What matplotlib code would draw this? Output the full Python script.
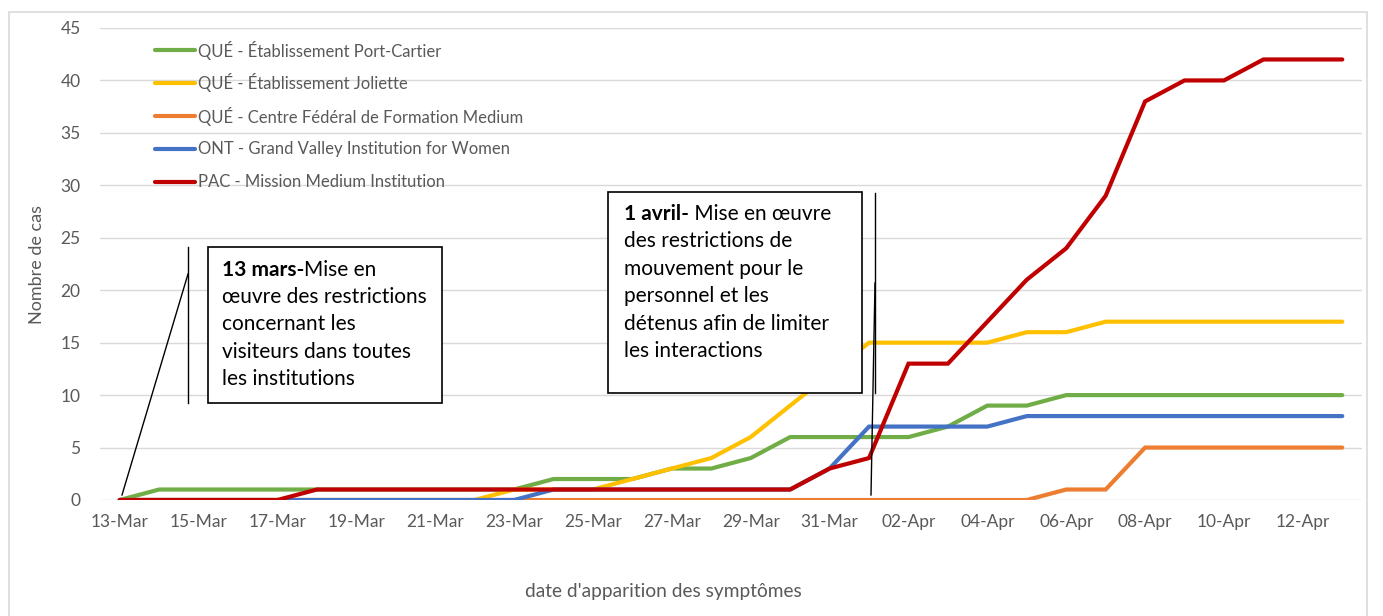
import numpy as np
import pandas as pd
import matplotlib
matplotlib.use("Agg")
import matplotlib.pyplot as plt
from matplotlib.patches import Rectangle
from matplotlib.lines import Line2D

plt.rcParams['font.family'] = ['Lato', 'DejaVu Sans']

# ---------------- data ----------------
dates = pd.date_range("2020-03-13", "2020-04-13", freq="D")
tick_labels = [d.strftime("%d-%b") for d in dates]

series_names = [
    "QUÉ - Établissement Port-Cartier",
    "QUÉ - Établissement Joliette",
    "QUÉ - Centre Fédéral de Formation Medium",
    "ONT - Grand Valley Institution for Women",
    "PAC - Mission Medium Institution",
]
port_cartier = [0, 1, 1, 1, 1, 1, 1, 1, 1, 1, 1, 2, 2, 2, 3, 3, 4, 6, 6, 6, 6, 7, 9, 9, 10, 10, 10, 10, 10, 10, 10, 10]
joliette = [0, 0, 0, 0, 0, 0, 0, 0, 0, 0, 1, 1, 1, 2, 3, 4, 6, 9, 12, 15, 15, 15, 15, 16, 16, 17, 17, 17, 17, 17, 17, 17]
cff_medium = [0] * 24 + [1, 1, 5, 5, 5, 5, 5, 5]
grand_valley = [0] * 11 + [1, 1, 1, 1, 1, 1, 1, 3, 7, 7, 7, 7, 8, 8, 8, 8, 8, 8, 8, 8, 8]
mission = [0, 0, 0, 0, 0, 1, 1, 1, 1, 1, 1, 1, 1, 1, 1, 1, 1, 1, 3, 4, 13, 13, 17, 21, 24, 29, 38, 40, 40, 42, 42, 42]
colors = ["#70AD47", "#FFC000", "#ED7D31", "#4472C4", "#C00000"]

annot1_bold = "13 mars-"
annot1_lines = ["Mise en", "œuvre des restrictions", "concernant les",
                "visiteurs dans toutes", "les institutions"]
annot2_bold = "1 avril-"
annot2_lines = [" Mise en œuvre", "des restrictions de", "mouvement pour le",
                "personnel et les", "détenus afin de limiter", "les interactions"]

# ---------------- figure ----------------
W, H = 1383, 616
fig = plt.figure(figsize=(W / 100, H / 100), dpi=100)
fig.patch.set_facecolor("white")


def fx(x):
    return x / W


def fy(y):
    return 1 - y / H


GRAY = "#595959"
ax = fig.add_axes([fx(100), fy(500), fx(1362) - fx(100), fy(28) - fy(500)])
x = np.arange(len(dates))
all_series = [port_cartier, joliette, cff_medium, grand_valley, mission]
lines_out = []
for vals, name, c in zip(all_series, series_names, colors):
    ln, = ax.plot(x, vals, color=c, lw=3.0, label=name, solid_capstyle="round",
                  solid_joinstyle="miter", zorder=3)
    lines_out.append(ln)

ax.set_xlim(-0.5, len(dates) - 0.5)
ax.set_ylim(0, 45)
ax.set_yticks(np.arange(0, 46, 5))
ax.set_xticks(x[::2])
ax.set_xticklabels(tick_labels[::2])
ax.grid(axis="y", color="#D9D9D9", lw=1.0)
ax.set_axisbelow(True)
for s in ax.spines.values():
    s.set_visible(False)
ax.tick_params(length=0, colors=GRAY, labelsize=12.5)
ax.tick_params(axis="y", pad=14)
ax.tick_params(axis="x", pad=10)
ax.set_ylabel("Nombre de cas", color=GRAY, fontsize=13)
ax.set_xlabel("date d'apparition des symptômes", color=GRAY, fontsize=13.8)
ax.yaxis.set_label_coords((37 - 100) / 1262, 0.5 - (265 - 264) / 472)
ax.yaxis.label.set_va("center")
ax.xaxis.set_label_coords((663 - 100) / 1262, (500 - 591) / 472)
ax.xaxis.label.set_va("center")

# legend (drawn entry by entry, evenly spaced like the reference)
for i, (ln, name) in enumerate(zip(lines_out, series_names)):
    yy = 50 + 33 * i
    fig.add_artist(Line2D([fx(155), fx(195)], [fy(yy), fy(yy)], transform=fig.transFigure,
                          color=ln.get_color(), lw=3.0, solid_capstyle="round"))
    fig.text(fx(198), fy(yy), name, fontsize=12.0, color=GRAY, va="center", ha="left")

# chart area border
fig.add_artist(Rectangle((fx(9), fy(660)), fx(1367) - fx(9), fy(12) - fy(660),
                         transform=fig.transFigure, fill=False, edgecolor="#D9D9D9", lw=1.2))


def box(x0, y0, x1, y1):
    fig.add_artist(Rectangle((fx(x0), fy(y1)), fx(x1) - fx(x0), fy(y0) - fy(y1),
                             transform=fig.transFigure, fill=True, facecolor="white",
                             edgecolor="black", lw=1.2, zorder=5))


def line(x0, y0, x1, y1):
    fig.add_artist(Line2D([fx(x0), fx(x1)], [fy(y0), fy(y1)], transform=fig.transFigure,
                          color="black", lw=1.0, zorder=6))


box(208, 247, 442, 403)
box(608, 192, 862, 393)
line(188, 247, 188, 403)
line(188, 274, 122, 495)
line(875, 193, 875, 393)
line(875, 283, 871, 495)

fs_ann = 15.0
fig.canvas.draw()
renderer = fig.canvas.get_renderer()


def boxed_text(x0, y0, bold, lines, dy):
    tb = fig.text(fx(x0), fy(y0), bold, fontsize=fs_ann, fontweight="bold", va="center",
                  ha="left", zorder=7, color="black")
    bb = tb.get_window_extent(renderer)
    fig.text(bb.x1 / W, fy(y0), lines[0], fontsize=fs_ann, va="center", ha="left",
             zorder=7, color="black")
    for i, ln in enumerate(lines[1:], start=1):
        fig.text(fx(x0), fy(y0 + i * dy), ln, fontsize=fs_ann, va="center", ha="left",
                 zorder=7, color="black")


boxed_text(222, 270, annot1_bold, annot1_lines, 27.2)
boxed_text(624, 214, annot2_bold, annot2_lines, 27.4)

fig.savefig("out.png", dpi=100, facecolor="white")
